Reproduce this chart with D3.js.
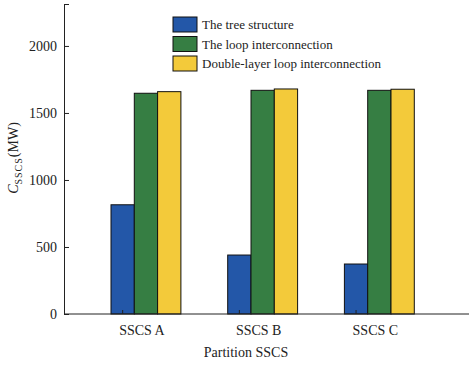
<!DOCTYPE html>
<html>
<head>
<meta charset="utf-8">
<script src="https://cdn.jsdelivr.net/npm/d3@7/dist/d3.min.js"></script>
<style>
  body { margin: 0; background: #fff; }
  svg text { font-family: "Liberation Serif", "Times New Roman", serif; fill: #222; }
</style>
</head>
<body>
<svg id="chart" width="472" height="365"></svg>
<script>
// Data
const partitions = ['SSCS A', 'SSCS B', 'SSCS C'];
const seriesNames = ['The tree structure', 'The loop interconnection', 'Double-layer loop interconnection'];
const treeValues = [815, 440, 373];
const loopValues = [1647, 1669, 1669];
const doubleLoopValues = [1659, 1679, 1677];
const yTicks = [0, 500, 1000, 1500, 2000];

const colors = ['#2357a8', '#367e43', '#f3ca3a'];
const series = [treeValues, loopValues, doubleLoopValues];

const svg = d3.select('#chart');
const m = { l: 64, r: 469, t: 4, b: 314 };

const y = d3.scaleLinear().domain([0, 2313]).range([m.b, m.t]);

// group scale: each group is 3 bars wide
const x0 = d3.scaleBand().domain(partitions).range([87.6, 437.7]).paddingInner(0).paddingOuter(0);
const barW = 23.3;
const groupOffset = (x0.bandwidth() - 3 * barW) / 2;

// Bars
partitions.forEach((p, i) => {
  series.forEach((s, j) => {
    const x = x0(p) + groupOffset + j * barW;
    svg.append('rect')
      .attr('x', x)
      .attr('y', y(s[i]))
      .attr('width', barW)
      .attr('height', y(0) - y(s[i]))
      .attr('fill', colors[j])
      .attr('stroke', '#111')
      .attr('stroke-width', 1);
  });
});

// Y axis
const yAxis = d3.axisLeft(y).tickValues(yTicks).tickFormat(d3.format('d'))
  .tickSizeInner(-5).tickSizeOuter(0).tickPadding(7);
const gy = svg.append('g').attr('transform', `translate(${m.l},0)`).call(yAxis);
gy.select('.domain').attr('stroke', '#222');
gy.selectAll('.tick line').attr('stroke', '#222');
gy.selectAll('text').style('font-size', '14px').attr('fill', '#222');
// top tick
svg.append('line').attr('x1', m.l).attr('x2', m.l + 5).attr('y1', m.t + 0.5).attr('y2', m.t + 0.5).attr('stroke', '#222');

// X axis
const gx = svg.append('g').attr('transform', `translate(0,${m.b})`);
gx.append('line').attr('x1', m.l).attr('x2', m.r).attr('y1', 0).attr('y2', 0).attr('stroke', '#222');
partitions.forEach(p => {
  const cx = x0(p) + groupOffset + barW / 2;
  gx.append('line').attr('x1', cx).attr('x2', cx).attr('y1', 0).attr('y2', -4).attr('stroke', '#222');
  gx.append('text')
    .attr('x', x0(p) + x0.bandwidth() / 2 - 4)
    .attr('y', 21)
    .attr('text-anchor', 'middle')
    .style('font-size', '14px')
    .text(p);
});

// Axis titles
svg.append('text')
  .attr('x', 246).attr('y', 357)
  .attr('text-anchor', 'middle')
  .style('font-size', '14px')
  .text('Partition SSCS');

const yt = svg.append('text')
  .attr('transform', 'translate(18,158) rotate(-90)')
  .attr('text-anchor', 'middle')
  .style('font-size', '14px');
yt.append('tspan').style('font-style', 'italic').text('C');
yt.append('tspan').attr('dy', 4).style('font-size', '10px').style('letter-spacing', '1px').text('SSCS');
yt.append('tspan').attr('dy', -4).text('(MW)');

// Legend
const lg = svg.append('g').attr('transform', 'translate(173,17)');
seriesNames.forEach((name, j) => {
  const row = lg.append('g').attr('transform', `translate(0,${j * 19.5})`);
  row.append('rect').attr('width', 24).attr('height', 15)
    .attr('fill', colors[j]).attr('stroke', '#111').attr('stroke-width', 1);
  row.append('text').attr('x', 29).attr('y', 12).style('font-size', '13px').text(name);
});
</script>
</body>
</html>
